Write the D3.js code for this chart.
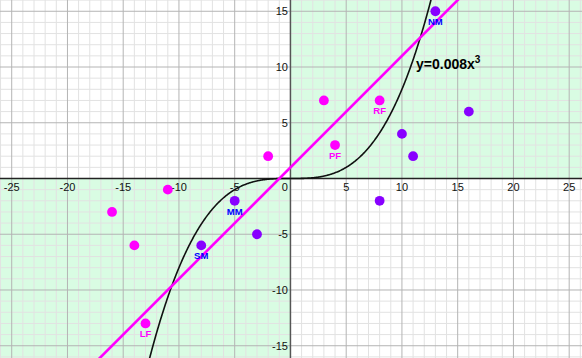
<!DOCTYPE html>
<html>
<head>
<meta charset="utf-8">
<script src="https://cdn.jsdelivr.net/npm/d3@7"></script>
<style>
html,body{margin:0;padding:0;background:#fff;}
svg{display:block;font-family:"Liberation Sans",Arial,sans-serif;}
</style>
</head>
<body>
<svg id="chart" width="582" height="358"></svg>
<script>
// ---- data ----
const xTicks = [-25,-20,-15,-10,-5,5,10,15,20,25];
const yTicks = [-15,-10,-5,5,10,15];
const magentaX = [-16,-14,-11,-2,3,4,8,-13];
const magentaY = [-3,-6,-1,2,7,3,7,-13];
const magentaLabels = ["","","","","","PF","RF","LF"];
const purpleX = [-5,-8,-3,8,10,11,16,13];
const purpleY = [-2,-6,-5,-2,4,2,6,15];
const purpleLabels = ["MM","SM","","","","","","NM"];
const cubicCoef = 0.008;
const lineSlope = 1, lineIntercept = 1;
const curveLabel = "y=0.008x";

// ---- setup ----
const W = 582, H = 358;
const svg = d3.select("#chart");
const x = d3.scaleLinear().domain([-26.05, 26.15]).range([0, W]);
const y = d3.scaleLinear().domain([16.01, -16.1]).range([0, H]);
const x0 = x(0), y0 = y(0);

// shaded quadrants I and III
svg.append("rect").attr("x", x0).attr("y", 0).attr("width", W - x0).attr("height", y0).attr("fill", "#d9fce3");
svg.append("rect").attr("x", 0).attr("y", y0).attr("width", x0).attr("height", H - y0).attr("fill", "#d9fce3");

// grid
const gx = d3.range(-26, 27), gy = d3.range(-16, 17);
const grid = svg.append("g");
grid.selectAll(".vx").data(gx.filter(d => d % 5 !== 0)).join("line")
  .attr("x1", d => x(d)).attr("x2", d => x(d)).attr("y1", 0).attr("y2", H)
  .attr("stroke", "#e2e2e2").attr("stroke-width", 1);
grid.selectAll(".hy").data(gy.filter(d => d % 5 !== 0)).join("line")
  .attr("y1", d => y(d)).attr("y2", d => y(d)).attr("x1", 0).attr("x2", W)
  .attr("stroke", "#e2e2e2").attr("stroke-width", 1);
grid.selectAll(".vxM").data(gx.filter(d => d % 5 === 0 && d !== 0)).join("line")
  .attr("x1", d => x(d)).attr("x2", d => x(d)).attr("y1", 0).attr("y2", H)
  .attr("stroke", "#b4b4b4").attr("stroke-width", 1);
grid.selectAll(".hyM").data(gy.filter(d => d % 5 === 0 && d !== 0)).join("line")
  .attr("y1", d => y(d)).attr("y2", d => y(d)).attr("x1", 0).attr("x2", W)
  .attr("stroke", "#b4b4b4").attr("stroke-width", 1);

// axes
svg.append("line").attr("x1", 0).attr("x2", W).attr("y1", y0).attr("y2", y0)
  .attr("stroke", "#222").attr("stroke-width", 1.5);
svg.append("line").attr("x1", x0).attr("x2", x0).attr("y1", 0).attr("y2", H)
  .attr("stroke", "#555").attr("stroke-width", 1.5);

// tick labels
svg.append("g").selectAll("text").data(xTicks).join("text")
  .attr("x", d => x(d)).attr("y", y0 + 12.5).attr("text-anchor", "middle")
  .attr("font-size", 11).attr("fill", "#111").text(d => d);
svg.append("g").selectAll("text").data(yTicks).join("text")
  .attr("x", x0 - 2.5).attr("y", d => y(d) + 4).attr("text-anchor", "end")
  .attr("font-size", 11).attr("fill", "#111").text(d => d);
svg.append("text").attr("x", x0 - 2.5).attr("y", y0 + 12.5).attr("text-anchor", "end")
  .attr("font-size", 11).attr("fill", "#111").text("0");

// cubic curve
const cx = d3.range(-14, 14.001, 0.05);
const cubic = d3.line().x(d => x(d)).y(d => y(cubicCoef * d * d * d));
svg.append("path").attr("d", cubic(cx)).attr("fill", "none")
  .attr("stroke", "#111").attr("stroke-width", 1.6);

// magenta line
const lx = [-18, 16];
svg.append("line")
  .attr("x1", x(lx[0])).attr("y1", y(lineSlope * lx[0] + lineIntercept))
  .attr("x2", x(lx[1])).attr("y2", y(lineSlope * lx[1] + lineIntercept))
  .attr("stroke", "#ff00ff").attr("stroke-width", 2.6);

// points
function drawPoints(xs, ys, labels, fill, labelColor) {
  const data = xs.map((v, i) => ({x: v, y: ys[i], label: labels[i]}));
  svg.append("g").selectAll("circle").data(data).join("circle")
    .attr("cx", d => x(d.x)).attr("cy", d => y(d.y)).attr("r", 4.9).attr("fill", fill);
  svg.append("g").selectAll("text").data(data.filter(d => d.label)).join("text")
    .attr("x", d => x(d.x)).attr("y", d => y(d.y) + 14)
    .attr("text-anchor", "middle").attr("font-size", 9.5).attr("font-weight", "bold")
    .attr("fill", labelColor).text(d => d.label);
}
drawPoints(magentaX, magentaY, magentaLabels, "#ff00ff", "#ff00ff");
drawPoints(purpleX, purpleY, purpleLabels, "#8800ff", "#0000ff");

// curve label
const t = svg.append("text").attr("x", 416).attr("y", 69)
  .attr("font-size", 14).attr("font-weight", "bold").attr("fill", "#000");
t.append("tspan").text(curveLabel);
t.append("tspan").attr("font-size", 10).attr("dy", -6).text("3");
</script>
</body>
</html>
